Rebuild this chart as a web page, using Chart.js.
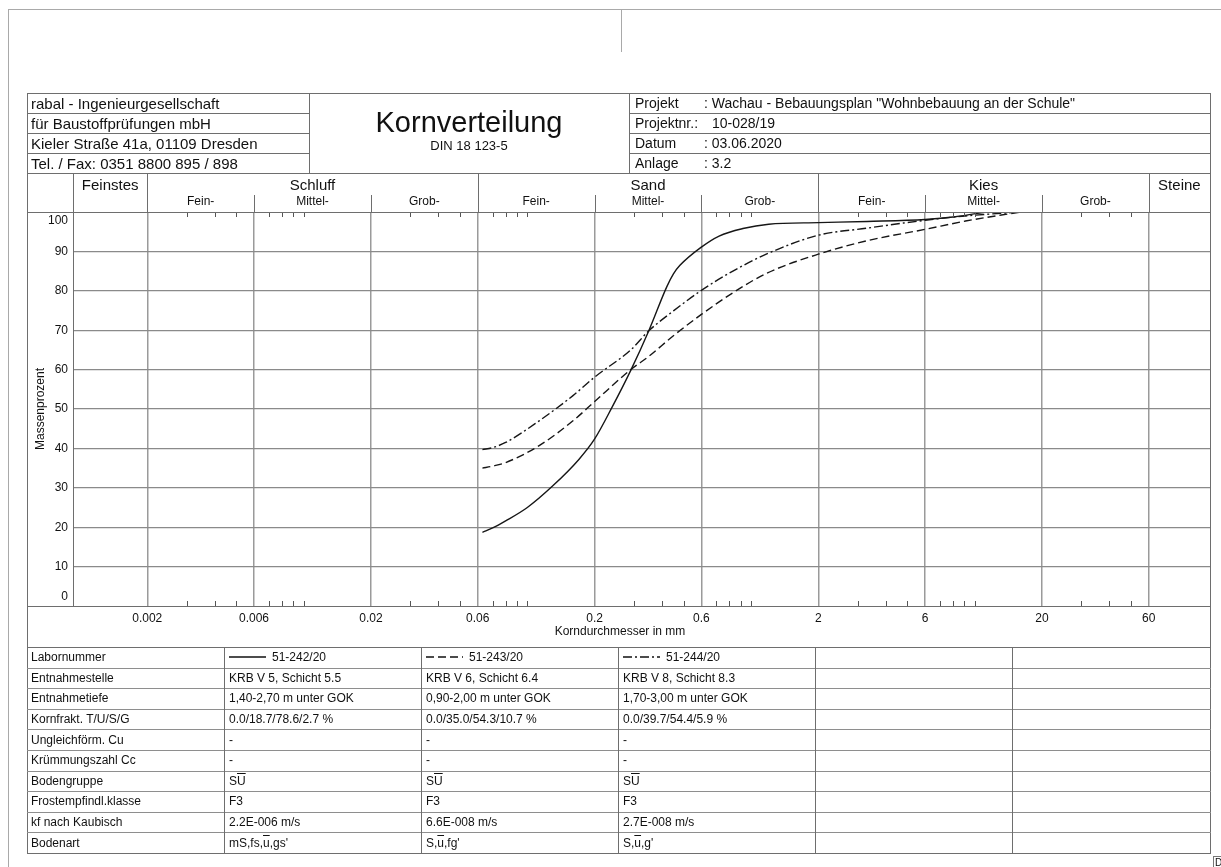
<!DOCTYPE html>
<html lang="de">
<head>
<meta charset="utf-8">
<title>Kornverteilung</title>
<script src="https://cdn.jsdelivr.net/npm/chart.js@4.4.1/dist/chart.umd.min.js"></script>
<style>
  html, body { margin: 0; padding: 0; background: #fff; }
  body { width: 1221px; height: 867px; position: relative; overflow: hidden;
         font-family: "Liberation Sans", Arial, Helvetica, sans-serif; color: #111; }
  #korn { position: absolute; left: 0; top: 0; }
  #sheet { position: absolute; left: 0; top: 0; width: 1221px; height: 867px; pointer-events: none; }
  .hl, .vl { position: absolute; background: #6e6e6e; }
  .hl { height: 1px; }
  .vl { width: 1px; }
  .cell { position: absolute; display: flex; align-items: center; white-space: nowrap; line-height: 1; }
  .ov { text-decoration: overline; }
  .sample { display: inline-block; margin-right: 6px; }
</style>
</head>
<body>
<canvas id="korn" width="1221" height="867"></canvas>
<div id="sheet"></div>
<script>
// ---- Siebdurchgang der Proben: Korndurchmesser [mm] / Massenprozent ----
const SIZES_242 = [0.063, 0.07, 0.08, 0.1, 0.13, 0.17, 0.2, 0.24, 0.29, 0.35, 0.42, 0.45, 0.48, 0.6, 0.72, 0.92, 1.2, 2, 3.3, 6, 8.2, 11.2];
const PASS_242  = [18.7, 19.8, 21.6, 25.0, 30.5, 37.2, 42.4, 50.6, 59.8, 70.0, 81.0, 84.3, 86.4, 91.1, 93.9, 95.8, 96.9, 97.3, 97.6, 98.1, 98.8, 100];

const SIZES_243 = [0.063, 0.07, 0.08, 0.113, 0.16, 0.2, 0.29, 0.35, 0.45, 0.6, 0.83, 1.17, 2, 3.3, 6, 9.1, 16];
const PASS_243  = [35.0, 35.5, 36.4, 40.7, 47.0, 51.9, 60.0, 63.4, 68.6, 74.0, 79.5, 84.4, 89.3, 92.7, 95.6, 97.7, 100];

const SIZES_244 = [0.063, 0.07, 0.08, 0.113, 0.16, 0.2, 0.29, 0.35, 0.45, 0.6, 0.83, 1.17, 2, 3.3, 6, 9.1, 16];
const PASS_244  = [39.7, 40.2, 41.5, 47.0, 53.4, 58.1, 65.0, 69.9, 74.9, 80.1, 85.0, 89.3, 94.1, 95.9, 97.9, 99.0, 100];

const SAMPLE_IDS = ['51-242/20', '51-243/20', '51-244/20'];

// ---- Achsen ----
const GRAIN_TICKS = [0.002, 0.006, 0.02, 0.06, 0.2, 0.6, 2, 6, 20, 60];
const GRAIN_TICK_LABELS = ['0.002', '0.006', '0.02', '0.06', '0.2', '0.6', '2', '6', '20', '60'];
const MINOR_TICKS = [0.003, 0.004, 0.005, 0.007, 0.008, 0.009, 0.01,
                     0.03, 0.04, 0.05, 0.07, 0.08, 0.09, 0.1,
                     0.3, 0.4, 0.5, 0.7, 0.8, 0.9, 1,
                     3, 4, 5, 7, 8, 9, 10,
                     30, 40, 50];
const GRAIN_MIN = 0.000931;
const GRAIN_MAX = 112.7;

// ---- Bodenarten nach Korngröße ----
const ZONE_LIMITS = [0.002, 0.06, 2, 60];
const ZONE_NAMES = ['Feinstes', 'Schluff', 'Sand', 'Kies', 'Steine'];
const SUB_LIMITS = [0.002, 0.006, 0.02, 0.06, 0.2, 0.6, 2, 6, 20, 60];
const SUB_NAMES = ['Fein-', 'Mittel-', 'Grob-', 'Fein-', 'Mittel-', 'Grob-', 'Fein-', 'Mittel-', 'Grob-'];

// ---- Schriftfeld ----
const FIRM_LINES = ['rabal - Ingenieurgesellschaft', 'für Baustoffprüfungen mbH',
                    'Kieler Straße 41a, 01109 Dresden', 'Tel. / Fax: 0351 8800 895 / 898'];
const SHEET_TITLE = 'Kornverteilung';
const SHEET_NORM = 'DIN 18 123-5';
const PROJECT_LABELS = ['Projekt', 'Projektnr.:', 'Datum', 'Anlage'];
const PROJECT_VALUES = [': Wachau - Bebauungsplan "Wohnbebauung an der Schule"', '10-028/19', ': 03.06.2020', ': 3.2'];

// ---- Ergebnistabelle ----
const ROW_LABELS = ['Labornummer', 'Entnahmestelle', 'Entnahmetiefe', 'Kornfrakt. T/U/S/G', 'Ungleichförm. Cu',
                    'Krümmungszahl Cc', 'Bodengruppe', 'Frostempfindl.klasse', 'kf nach Kaubisch', 'Bodenart'];
const ENTNAHMESTELLE = ['KRB V 5, Schicht 5.5', 'KRB V 6, Schicht 6.4', 'KRB V 8, Schicht 8.3'];
const ENTNAHMETIEFE = ['1,40-2,70 m unter GOK', '0,90-2,00 m unter GOK', '1,70-3,00 m unter GOK'];
const KORNFRAKTIONEN = ['0.0/18.7/78.6/2.7 %', '0.0/35.0/54.3/10.7 %', '0.0/39.7/54.4/5.9 %'];
const UNGLEICHFOERMIGKEIT = ['-', '-', '-'];
const KRUEMMUNGSZAHL = ['-', '-', '-'];
const BODENGRUPPE = ['S<span class="ov">U</span>', 'S<span class="ov">U</span>', 'S<span class="ov">U</span>'];
const FROSTKLASSE = ['F3', 'F3', 'F3'];
const KF_WERT = ['2.2E-006 m/s', '6.6E-008 m/s', '2.7E-008 m/s'];
const BODENART = ["mS,fs,<span class=\"ov\">u</span>,gs'", "S,<span class=\"ov\">u</span>,fg'", "S,<span class=\"ov\">u</span>,g'"];

// Linienmuster der drei Proben (Diagramm und Tabelle)
const LINE_DASHES = [[], [8, 4], [9, 3, 2, 3]];

const FONT = '"Liberation Sans", Arial, Helvetica, sans-serif';
const INK = '#111';
const FRAME = '#6e6e6e';

// ---------------- Blatt (Rahmen, Kopf, Tabelle) ----------------
const sheet = document.getElementById('sheet');

function hline(x1, x2, y, color) {
  const d = document.createElement('div');
  d.className = 'hl';
  d.style.left = x1 + 'px'; d.style.top = y + 'px'; d.style.width = (x2 - x1 + 1) + 'px';
  if (color) d.style.background = color;
  sheet.appendChild(d);
}
function vline(x, y1, y2, color) {
  const d = document.createElement('div');
  d.className = 'vl';
  d.style.left = x + 'px'; d.style.top = y1 + 'px'; d.style.height = (y2 - y1 + 1) + 'px';
  if (color) d.style.background = color;
  sheet.appendChild(d);
}
function cell(html, left, top, width, height, size, align) {
  const d = document.createElement('div');
  d.className = 'cell';
  d.style.left = left + 'px'; d.style.top = top + 'px';
  d.style.width = width + 'px'; d.style.height = height + 'px';
  d.style.fontSize = size + 'px';
  d.style.justifyContent = align === 'center' ? 'center' : 'flex-start';
  d.innerHTML = html;
  sheet.appendChild(d);
  return d;
}

// Blattrand
hline(8, 1221, 9, '#a9a9a9');
vline(8, 9, 867, '#a9a9a9');
vline(621, 9, 51, '#a9a9a9');

// Außenrahmen des Formulars
const L = 27, R = 1210, TOP = 93, BOTTOM = 853;
hline(L, R, TOP); hline(L, R, BOTTOM);
vline(L, TOP, BOTTOM); vline(R, TOP, BOTTOM);

// Schriftfeld
const HEAD_ROW = 20, COL_A = 309, COL_B = 629;
for (let i = 1; i < 4; i++) {
  hline(L, COL_A, TOP + i * HEAD_ROW);
  hline(COL_B, R, TOP + i * HEAD_ROW);
}
hline(L, R, TOP + 4 * HEAD_ROW);
vline(COL_A, TOP, TOP + 4 * HEAD_ROW);
vline(COL_B, TOP, TOP + 4 * HEAD_ROW);

FIRM_LINES.forEach((t, i) => cell(t, L + 4, TOP + i * HEAD_ROW, COL_A - L - 6, HEAD_ROW, 15));
cell(SHEET_TITLE, COL_A, 104, COL_B - COL_A, 36, 29, 'center');
cell(SHEET_NORM, COL_A, 137, COL_B - COL_A, 16, 13, 'center');
PROJECT_LABELS.forEach((t, i) => {
  cell(t, 635, TOP + i * HEAD_ROW, 70, HEAD_ROW, 14);
  const startX = PROJECT_VALUES[i].startsWith(':') ? 704 : 712;
  cell(PROJECT_VALUES[i], startX, TOP + i * HEAD_ROW, R - startX - 4, HEAD_ROW, 14);
});

// Diagrammrahmen
hline(L, R, 212);
hline(L, R, 606);
vline(73, 173, 606);
hline(L, R, 647);
cell('Korndurchmesser in mm', 520, 624, 200, 14, 12, 'center');

// Ergebnistabelle
const TABLE_TOP = 647, TABLE_ROW = 20.6;
const TABLE_COLS = [L, 224, 421, 618, 815, 1012, R];
for (let i = 1; i < ROW_LABELS.length; i++) {
  hline(L, R, Math.round(TABLE_TOP + i * TABLE_ROW), '#8e8e8e');
}
TABLE_COLS.slice(1, -1).forEach(x => vline(x, TABLE_TOP, BOTTOM));

function sampleSvg(dash) {
  const da = dash.length ? ` stroke-dasharray="${dash.join(' ')}"` : '';
  return `<svg class="sample" width="37" height="6" viewBox="0 0 37 6"><line x1="0" y1="3" x2="37" y2="3" stroke="${INK}" stroke-width="1.3"${da}/></svg>`;
}
const TABLE_ROWS = [
  SAMPLE_IDS.map((id, k) => sampleSvg(LINE_DASHES[k]) + id),
  ENTNAHMESTELLE, ENTNAHMETIEFE, KORNFRAKTIONEN, UNGLEICHFOERMIGKEIT,
  KRUEMMUNGSZAHL, BODENGRUPPE, FROSTKLASSE, KF_WERT, BODENART
];
ROW_LABELS.forEach((label, i) => {
  const top = TABLE_TOP + i * TABLE_ROW;
  cell(label, L + 4, top, TABLE_COLS[1] - L - 6, TABLE_ROW, 12);
  TABLE_ROWS[i].forEach((html, k) => {
    cell(html, TABLE_COLS[k + 1] + 5, top, TABLE_COLS[k + 2] - TABLE_COLS[k + 1] - 8, TABLE_ROW, 12);
  });
});

// Randmarke unten rechts
const mark = cell('D', 1213, 856, 14, 12, 10);
mark.style.border = '1px solid #777';
mark.style.paddingLeft = '1px';

// ---------------- Diagramm ----------------
function toPoints(sizes, pass) {
  return sizes.map((d, i) => ({ x: d, y: pass[i] }));
}

// Bodenartenleiste über dem Diagramm und Teilstriche am oberen/unteren Rand
const soilZones = {
  id: 'soilZones',
  afterDraw(chart) {
    const { ctx, chartArea: area, scales: { x } } = chart;
    const rowTop = 173, subTop = 195;
    const px = v => Math.round(x.getPixelForValue(v)) + 0.5;
    ctx.save();
    ctx.lineWidth = 1;
    ctx.strokeStyle = FRAME;
    ctx.beginPath();
    ZONE_LIMITS.forEach(v => { const p = px(v); ctx.moveTo(p, rowTop); ctx.lineTo(p, area.top); });
    SUB_LIMITS.filter(v => !ZONE_LIMITS.includes(v)).forEach(v => {
      const p = px(v); ctx.moveTo(p, subTop); ctx.lineTo(p, area.top);
    });
    ctx.stroke();

    ctx.strokeStyle = '#555';
    ctx.beginPath();
    MINOR_TICKS.forEach(v => {
      const p = px(v);
      ctx.moveTo(p, area.top); ctx.lineTo(p, area.top + 5);
      ctx.moveTo(p, area.bottom - 5); ctx.lineTo(p, area.bottom);
    });
    ctx.stroke();

    ctx.fillStyle = INK;
    ctx.textAlign = 'center';
    ctx.textBaseline = 'middle';
    ctx.font = '15px ' + FONT;
    const bounds = [x.min, ...ZONE_LIMITS, x.max];
    ZONE_NAMES.forEach((name, i) => {
      const c = (x.getPixelForValue(bounds[i]) + x.getPixelForValue(bounds[i + 1])) / 2;
      ctx.fillText(name, c, 186);
    });
    ctx.font = '12px ' + FONT;
    SUB_NAMES.forEach((name, i) => {
      const c = (x.getPixelForValue(SUB_LIMITS[i]) + x.getPixelForValue(SUB_LIMITS[i + 1])) / 2;
      ctx.fillText(name, c, 202);
    });
    ctx.restore();
  }
};

const seriesStyle = k => ({
  borderColor: '#161616',
  borderWidth: 1.4,
  borderDash: LINE_DASHES[k],
  pointRadius: 0,
  pointHoverRadius: 0,
  fill: false,
  cubicInterpolationMode: 'monotone'
});

new Chart(document.getElementById('korn'), {
  type: 'line',
  data: {
    datasets: [
      { label: SAMPLE_IDS[0], data: toPoints(SIZES_242, PASS_242), ...seriesStyle(0) },
      { label: SAMPLE_IDS[1], data: toPoints(SIZES_243, PASS_243), ...seriesStyle(1) },
      { label: SAMPLE_IDS[2], data: toPoints(SIZES_244, PASS_244), ...seriesStyle(2) }
    ]
  },
  options: {
    responsive: false,
    animation: false,
    devicePixelRatio: 1,
    layout: { padding: { left: 27, right: 11, top: 212, bottom: 220 } },
    plugins: { legend: { display: false }, tooltip: { enabled: false } },
    scales: {
      x: {
        type: 'logarithmic',
        position: 'bottom',
        bounds: 'data',
        min: GRAIN_MIN,
        max: GRAIN_MAX,
        afterBuildTicks: s => { s.ticks = GRAIN_TICKS.map(v => ({ value: v })); },
        afterFit: s => { s.height = 41; },
        ticks: {
          autoSkip: false, maxRotation: 0, minRotation: 0, padding: 5,
          color: INK, font: { family: FONT, size: 12 },
          callback: (v, i) => GRAIN_TICK_LABELS[i]
        },
        grid: { drawTicks: false, color: '#9a9a9a', lineWidth: 1.5 },
        border: { display: false }
      },
      y: {
        min: 0,
        max: 100,
        afterFit: s => { s.width = 46; },
        ticks: {
          stepSize: 10, padding: 5, color: INK,
          font: { family: FONT, size: 12, lineHeight: 1.5 },
          callback: v => v === 100 ? ['', '100'] : (v === 0 ? ['0', ''] : String(v))
        },
        grid: {
          drawTicks: false,
          lineWidth: 1.2,
          color: c => (c.tick && (c.tick.value === 0 || c.tick.value === 100)) ? 'rgba(0,0,0,0)' : '#8a8a8a'
        },
        border: { display: false },
        title: { display: true, text: 'Massenprozent', color: INK, font: { family: FONT, size: 12 }, padding: { top: 6, bottom: 0 } }
      }
    }
  },
  plugins: [soilZones]
});
</script>
</body>
</html>
